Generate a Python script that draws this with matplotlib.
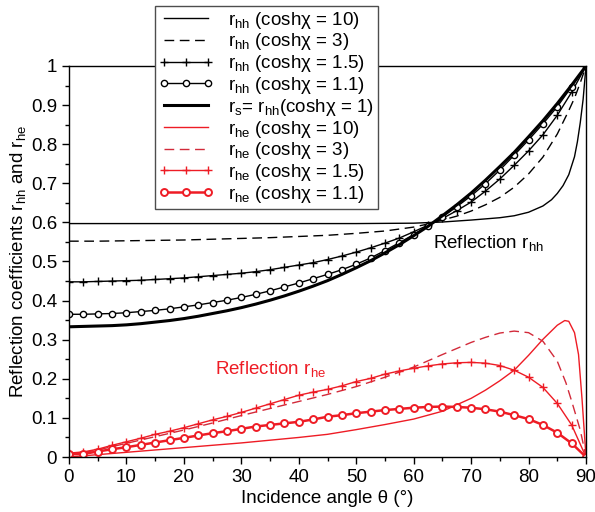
import numpy as np
import matplotlib.pyplot as plt
from matplotlib.ticker import MultipleLocator, FuncFormatter

plt.rcParams['font.family'] = ['Liberation Sans', 'DejaVu Sans']
plt.rcParams['mathtext.fontset'] = 'custom'
plt.rcParams['mathtext.rm'] = 'Liberation Sans'
plt.rcParams['mathtext.it'] = 'Liberation Sans:italic'

# angles (deg) for the curves with markers, one point every 2.5 deg
theta = np.arange(0, 90.1, 2.5)

# r_hh curves (black)
rs = [0.333, 0.334, 0.335, 0.336, 0.338, 0.341, 0.345, 0.349, 0.354, 0.360,
      0.367, 0.374, 0.382, 0.391, 0.401, 0.412, 0.424, 0.437, 0.451, 0.467,
      0.484, 0.502, 0.522, 0.543, 0.566, 0.590, 0.617, 0.645, 0.675, 0.708,
      0.743, 0.779, 0.819, 0.860, 0.904, 0.951, 1.0]
rhh_11 = [0.365, 0.365, 0.366, 0.367, 0.369, 0.372, 0.375, 0.379, 0.384, 0.389,
          0.395, 0.401, 0.408, 0.416, 0.425, 0.435, 0.445, 0.456, 0.467, 0.479,
          0.493, 0.509, 0.528, 0.548, 0.569, 0.591, 0.614, 0.640, 0.668, 0.699,
          0.734, 0.772, 0.811, 0.852, 0.896, 0.947, 1.0]
rhh_15 = [0.448, 0.448, 0.449, 0.450, 0.451, 0.452, 0.454, 0.456, 0.458, 0.461,
          0.464, 0.467, 0.470, 0.474, 0.479, 0.485, 0.491, 0.497, 0.505, 0.514,
          0.524, 0.535, 0.547, 0.560, 0.576, 0.593, 0.610, 0.630, 0.652, 0.680,
          0.711, 0.746, 0.783, 0.824, 0.874, 0.933, 1.0]
theta_hh3 = [0, 5, 10, 15, 20, 25, 30, 35, 40, 45, 50, 55, 60, 62.5, 65, 67.5,
             70, 72.5, 75, 77.5, 80, 82.5, 85, 86, 87, 88, 89, 90]
rhh_3 = [0.552, 0.552, 0.553, 0.554, 0.555, 0.557, 0.559, 0.561, 0.564, 0.567,
         0.572, 0.578, 0.588, 0.596, 0.606, 0.616, 0.629, 0.645, 0.664, 0.690,
         0.724, 0.767, 0.826, 0.856, 0.886, 0.918, 0.957, 1.0]
theta_hh10 = [0, 10, 20, 30, 40, 50, 60, 65, 70, 75, 77.5, 80, 82.5, 84, 85,
              86, 87, 88, 88.5, 89, 89.5, 90]
rhh_10 = [0.597, 0.597, 0.597, 0.597, 0.597, 0.597, 0.598, 0.601, 0.606, 0.612,
          0.617, 0.626, 0.642, 0.658, 0.674, 0.694, 0.722, 0.768, 0.806, 0.855,
          0.915, 1.0]

# r_he curves (red)
rhe_11 = [0.007, 0.008, 0.014, 0.020, 0.025, 0.031, 0.037, 0.043, 0.049, 0.055,
          0.061, 0.066, 0.072, 0.078, 0.082, 0.086, 0.090, 0.096, 0.103, 0.107,
          0.112, 0.116, 0.120, 0.123, 0.126, 0.128, 0.129, 0.128, 0.126, 0.122,
          0.116, 0.107, 0.097, 0.082, 0.062, 0.035, 0.0]
rhe_15 = [0.010, 0.013, 0.020, 0.030, 0.039, 0.048, 0.058, 0.066, 0.075, 0.085,
          0.095, 0.104, 0.114, 0.125, 0.136, 0.147, 0.158, 0.166, 0.173, 0.182,
          0.193, 0.201, 0.212, 0.220, 0.227, 0.233, 0.238, 0.241, 0.242, 0.240,
          0.234, 0.222, 0.204, 0.178, 0.137, 0.082, 0.0]
theta_he3 = [0, 5, 10, 15, 20, 25, 30, 35, 40, 45, 50, 55, 60, 65, 70, 72.5,
             75, 77.5, 80, 82.5, 85, 86.5, 87.5, 89, 90]
rhe_3 = [0.005, 0.018, 0.035, 0.052, 0.069, 0.087, 0.106, 0.124, 0.142, 0.160,
         0.180, 0.204, 0.230, 0.262, 0.293, 0.306, 0.317, 0.322, 0.318, 0.296,
         0.245, 0.190, 0.143, 0.069, 0.0]
theta_he10 = [0, 5, 10, 15, 20, 25, 30, 35, 40, 45, 50, 55, 60, 65, 70, 72.5,
              75, 77.5, 80, 82.5, 85, 86.3, 87, 88, 88.7, 89.3, 90]
rhe_10 = [0.0, 0.006, 0.012, 0.018, 0.024, 0.030, 0.036, 0.043, 0.050, 0.058,
          0.070, 0.083, 0.097, 0.117, 0.150, 0.171, 0.195, 0.222, 0.260, 0.301,
          0.337, 0.349, 0.347, 0.318, 0.262, 0.150, 0.0]

red = '#ee1c25'
red_dash = '#d22a3a'
fs = 13.5

fig = plt.figure(figsize=(5.95, 5.12), dpi=100)
ax = fig.add_axes([69/595, 1-457/512, (586-69)/595, (457-66)/512])

ax.plot(theta_hh10, rhh_10, color='k', lw=1,
        label=r'r$_{\mathrm{hh}}$ (coshχ = 10)')
ax.plot(theta_hh3, rhh_3, color='k', lw=1, dashes=(7, 4),
        label=r'r$_{\mathrm{hh}}$ (coshχ = 3)')
ax.plot(theta, rhh_15, color='k', lw=1, marker='+', ms=5.5, mew=1,
        label=r'r$_{\mathrm{hh}}$ (coshχ = 1.5)')
ax.plot(theta, rhh_11, color='k', lw=1, marker='o', ms=4.5, mew=1, mfc='white',
        label=r'r$_{\mathrm{hh}}$ (coshχ = 1.1)')
ax.plot(theta, rs, color='k', lw=2.2,
        label=r'r$_{\mathrm{s}}$= r$_{\mathrm{hh}}$(coshχ = 1)')
ax.plot(theta_he10, rhe_10, color=red, lw=1,
        label=r'r$_{\mathrm{he}}$ (coshχ = 10)')
ax.plot(theta_he3, rhe_3, color=red_dash, lw=1, dashes=(7, 4),
        label=r'r$_{\mathrm{he}}$ (coshχ = 3)')
ax.plot(theta, rhe_15, color=red, lw=1, marker='+', ms=5.5, mew=1,
        label=r'r$_{\mathrm{he}}$ (coshχ = 1.5)')
ax.plot(theta, rhe_11, color=red, lw=1.8, marker='o', ms=5, mew=1.4, mfc='white',
        label=r'r$_{\mathrm{he}}$ (coshχ = 1.1)')

ax.text(63.4, 0.547, r'Reflection r$_{\mathrm{hh}}$', fontsize=fs, va='center')
ax.text(25.4, 0.225, r'Reflection r$_{\mathrm{he}}$', fontsize=fs, va='center', color=red)

ax.set_xlim(0, 90)
ax.set_ylim(0, 1)
ax.xaxis.set_major_locator(MultipleLocator(10))
ax.xaxis.set_minor_locator(MultipleLocator(5))
ax.yaxis.set_major_locator(MultipleLocator(0.1))
ax.yaxis.set_minor_locator(MultipleLocator(0.05))
ax.yaxis.set_major_formatter(FuncFormatter(lambda v, p: f'{v:g}'))
ax.tick_params(which='major', direction='out', length=5, width=1, labelsize=fs)
ax.tick_params(which='minor', direction='out', length=3, width=1)
for s in ax.spines.values():
    s.set_linewidth(1)

ax.set_xlabel('Incidence angle θ (°)', fontsize=fs, labelpad=3)
ax.set_ylabel(r'Reflection coefficients r$_{\mathrm{hh}}$ and r$_{\mathrm{he}}$',
              fontsize=fs, labelpad=2)

leg = ax.legend(loc='upper left', bbox_to_anchor=(155/595, 1-6/512),
                bbox_transform=fig.transFigure, fontsize=fs, frameon=True,
                fancybox=False, edgecolor='0.3', framealpha=1, numpoints=3,
                handlelength=2.9, handletextpad=0.8, borderpad=0.2,
                labelspacing=0.04, borderaxespad=0)
leg.get_frame().set_linewidth(1)

fig.savefig('out.png', dpi=100)
